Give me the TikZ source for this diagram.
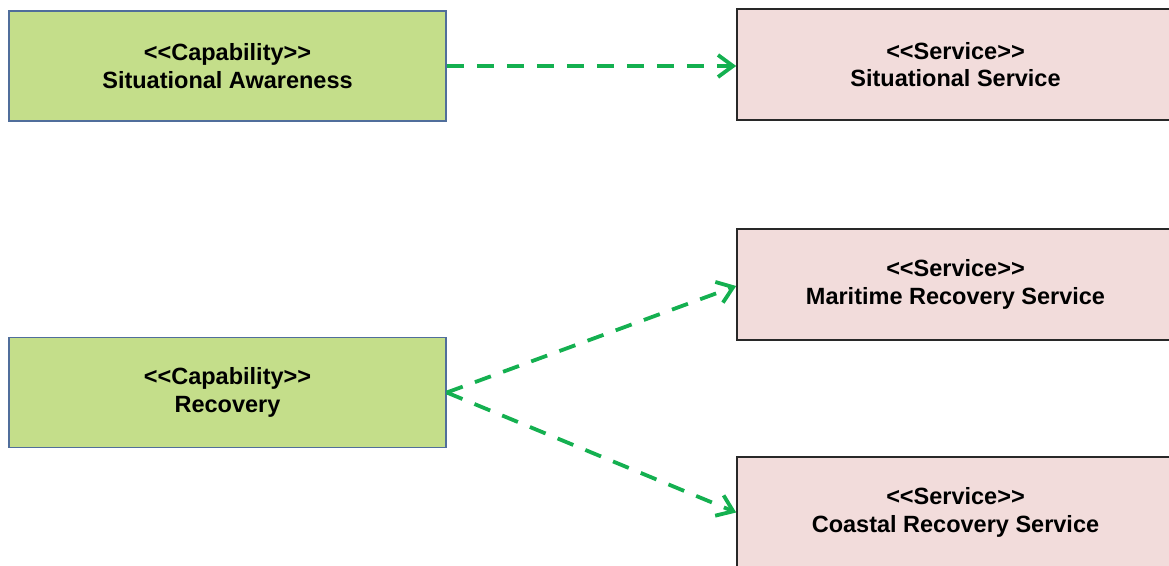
\documentclass[tikz,border=0pt]{standalone}
\usepackage{fontspec}
\setmainfont{Liberation Sans}
\usetikzlibrary{arrows.meta}
\definecolor{capfill}{RGB}{196,222,138}
\definecolor{capline}{RGB}{80,110,155}
\definecolor{svcfill}{RGB}{242,220,219}
\definecolor{svcline}{RGB}{40,40,40}
\definecolor{linkgreen}{RGB}{20,176,80}
\newcommand{\stereo}[1]{{<}{<}#1{>}{>}}
\tikzset{
  capbox/.style={draw=capline, line width=1.5pt, fill=capfill, minimum width=437pt, minimum height=110pt,
    align=center, font=\fontsize{23.5}{27.5}\selectfont\bfseries, inner sep=0pt},
  svcbox/.style={draw=svcline, line width=1.6pt, fill=svcfill, minimum width=437pt, minimum height=111pt,
    align=center, font=\fontsize{23.5}{27.5}\selectfont\bfseries, inner sep=0pt},
  realizes/.style={draw=linkgreen, line width=3.8pt, dash pattern=on 17pt off 13pt,
    -{Straight Barb[length=15pt,width=22pt,line width=3.8pt]}}
}
\begin{document}
\begin{tikzpicture}[x=1pt,y=-1pt]
  \useasboundingbox (0,0) rectangle (1169,565);
  \clip (0,0) rectangle (1169,565);
  % capabilities
  \node[capbox] (sa)  at (227.5,66)  {\stereo{Capability}\\Situational Awareness};
  \node[capbox] (rec) at (227.5,392.5) {\stereo{Capability}\\Recovery};
  % services
  \node[svcbox] (ss)  at (955.5,64.5)  {\stereo{Service}\\Situational Service};
  \node[svcbox] (mrs) at (955.5,284.5) {\stereo{Service}\\Maritime Recovery Service};
  \node[svcbox] (crs) at (955.5,512.5) {\stereo{Service}\\Coastal Recovery Service};
  % realization links
  \draw[realizes] (sa.east) -- (ss.west |- sa.east);
  \draw[realizes] (rec.east) -- ([yshift=-1.5pt]mrs.west);
  \draw[realizes] (rec.east) -- (crs.west);
\end{tikzpicture}
\end{document}
